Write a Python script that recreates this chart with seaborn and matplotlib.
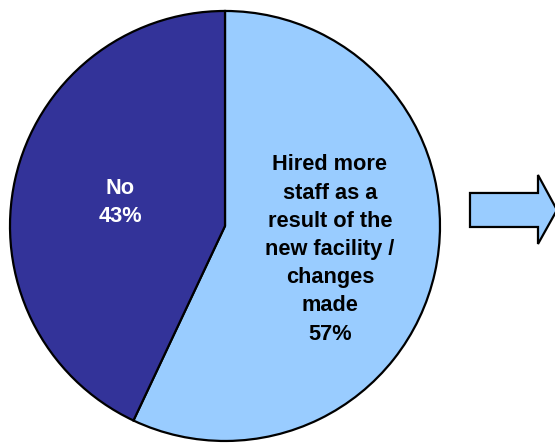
import matplotlib
matplotlib.use("Agg")
import matplotlib.pyplot as plt
import seaborn as sns
from matplotlib.patches import Polygon

sns.set_style("white")
plt.rcParams["font.family"] = ["Liberation Sans", "DejaVu Sans"]

# Survey responses
categories = ["Hired more\nstaff as a\nresult of the\nnew facility /\nchanges\nmade", "No"]
shares = [57, 43]
colors = ["#99CCFF", "#333399"]
text_colors = ["black", "white"]

fig = plt.figure(figsize=(5.55, 4.44), dpi=100)
ax = fig.add_axes([0, 0, 1, 1])

wedges, _, autotexts = ax.pie(
    shares,
    colors=colors,
    startangle=90,
    counterclock=False,
    radius=1.0,
    autopct=lambda p: "",
    pctdistance=0.5,
    wedgeprops=dict(edgecolor="black", linewidth=1.6),
)
for t, lab, val, tc in zip(autotexts, categories, shares, text_colors):
    t.set_text(f"{lab}\n{val}%")
    t.set_color(tc)
    t.set_fontsize(15.7)
    t.set_fontweight("bold")
    t.set_linespacing(1.45)
    t.set_ha("center")
    t.set_va("center")

# Block arrow pointing right
arrow = Polygon(
    [(1.1395, 0.1535), (1.4558, 0.1535), (1.4558, 0.2372), (1.5442, 0.0744),
     (1.4558, -0.0837), (1.4558, -0.0047), (1.1395, -0.0047)],
    closed=True, facecolor="#99CCFF", edgecolor="black", linewidth=1.6,
)
ax.add_patch(arrow)

ax.set_xlim(-1.0465, 1.5349)
ax.set_ylim(-1.014, 1.051)
ax.set_aspect("equal")
ax.axis("off")

fig.savefig("out.png", dpi=100, facecolor="white")
